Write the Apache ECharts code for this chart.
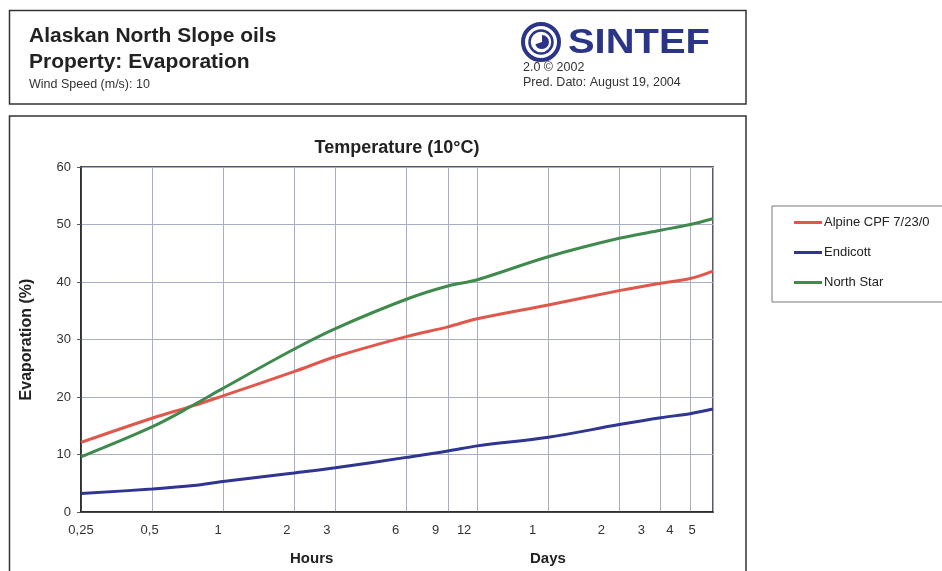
<!DOCTYPE html>
<html>
<head>
<meta charset="utf-8">
<script src="https://cdn.jsdelivr.net/npm/echarts@6/dist/echarts.min.js"></script>
<style>
html,body{margin:0;padding:0;background:#fff;}
#chart{width:942px;height:571px;}
</style>
</head>
<body>
<div id="chart"></div>
<script>
// ---- data (time in hours, evaporation in %) ----
const hours     = [0.25, 0.5, 0.75, 1, 2, 3, 6, 9, 12, 24, 48, 72, 96, 120];
const alpine    = [12.1, 16.3, 18.5, 20.2, 24.4, 27.0, 30.5, 32.2, 33.6, 36.0, 38.5, 39.8, 40.6, 41.9];
const endicott  = [3.2, 4.0, 4.6, 5.3, 6.8, 7.7, 9.5, 10.6, 11.5, 13.0, 15.2, 16.4, 17.1, 17.9];
const northStar = [9.6, 14.8, 18.6, 21.5, 28.3, 31.9, 37.0, 39.3, 40.4, 44.4, 47.6, 49.0, 50.0, 51.0];
const seriesNames = ['Alpine CPF 7/23/0', 'Endicott', 'North Star'];
const tickHours  = [0.25, 0.5, 1, 2, 3, 6, 9, 12, 24, 48, 72, 96, 120];
const tickLabels = ['0,25', '0,5', '1', '2', '3', '6', '9', '12', '1', '2', '3', '4', '5'];
const yMin = 0, yMax = 60, yStep = 10;

const colors = ['#e0574c', '#2f3590', '#3f8a4c'];
const FONT = '"Liberation Sans", Arial, sans-serif';

function labelFor(v) {
  for (let i = 0; i < tickHours.length; i++) {
    if (Math.abs(tickHours[i] - v) / tickHours[i] < 1e-6) return tickLabels[i];
  }
  return '';
}

const chart = echarts.init(document.getElementById('chart'), null, {renderer: 'canvas'});
const seriesData = [alpine, endicott, northStar];

const option = {
  backgroundColor: '#ffffff',
  textStyle: {fontFamily: FONT},
  animation: false,
  title: {
    text: 'Temperature (10°C)',
    left: 397, top: 139, textAlign: 'center', padding: 0,
    textStyle: {fontFamily: FONT, fontSize: 18, fontWeight: 'bold', color: '#222'}
  },
  legend: {
    data: seriesNames,
    orient: 'vertical', left: 794, top: 216, padding: 0,
    icon: 'rect', itemWidth: 28, itemHeight: 3, itemGap: 17,
    textStyle: {fontFamily: FONT, fontSize: 13, color: '#222', padding: [0, 0, 0, -3]}
  },
  grid: [
    {left: 81, right: 229, top: 167, bottom: 59, show: true, borderColor: '#222', borderWidth: 1.5, containLabel: false},
    {left: 81, right: 250, top: 167, bottom: 59, show: false, containLabel: false}
  ],
  xAxis: [
    {
      type: 'log', logBase: 2, min: 0.25, max: 120, gridIndex: 0,
      axisLine: {show: true, lineStyle: {color: '#222', width: 1.5}},
      axisTick: {show: false, customValues: tickHours},
      axisLabel: {show: false, customValues: tickHours},
      splitLine: {show: true, lineStyle: {color: '#a9aec4', width: 1}}
    },
    {
      type: 'log', logBase: 2, min: 0.25, max: 120, gridIndex: 1,
      axisLine: {show: false}, axisTick: {show: false}, splitLine: {show: false},
      axisLabel: {
        show: true, customValues: tickHours, margin: 12,
        fontFamily: FONT, fontSize: 13, color: '#333',
        formatter: function (v) { return labelFor(v); }
      }
    }
  ],
  yAxis: [
    {
      type: 'value', min: yMin, max: yMax, interval: yStep, gridIndex: 0,
      name: 'Evaporation (%)', nameLocation: 'middle', nameGap: 46,
      nameTextStyle: {fontFamily: FONT, fontSize: 16, fontWeight: 'bold', color: '#222'},
      axisLine: {show: true, lineStyle: {color: '#222', width: 1.5}},
      axisTick: {show: true, length: 4, lineStyle: {color: '#555'}},
      axisLabel: {margin: 10, fontFamily: FONT, fontSize: 13, color: '#333'},
      splitLine: {show: true, lineStyle: {color: '#a9aec4', width: 1}}
    },
    {
      type: 'value', min: yMin, max: yMax, gridIndex: 1, show: false
    }
  ],
  series: seriesNames.map((name, k) => ({
    name: name, type: 'line', xAxisIndex: 0, yAxisIndex: 0,
    showSymbol: false, smooth: 0.35,
    lineStyle: {color: colors[k], width: 3},
    itemStyle: {color: colors[k]},
    data: hours.map((h, i) => [h, seriesData[k][i]])
  })),
  graphic: [
    // header box
    {type: 'rect', shape: {x: 9.5, y: 10.5, width: 736.5, height: 93.5}, style: {fill: 'none', stroke: '#333', lineWidth: 1.5}, z: 0},
    // chart box
    {type: 'rect', shape: {x: 9.5, y: 116, width: 736.5, height: 480}, style: {fill: 'none', stroke: '#333', lineWidth: 1.5}, z: 0},
    // legend box
    {type: 'rect', shape: {x: 772, y: 206, width: 190, height: 96}, style: {fill: 'none', stroke: '#777', lineWidth: 1}, z: 0},
    // header texts
    {type: 'text', left: 29, top: 26, style: {text: 'Alaskan North Slope oils', font: 'bold 21px ' + FONT, fill: '#222'}},
    {type: 'text', left: 29, top: 52, style: {text: 'Property: Evaporation', font: 'bold 21px ' + FONT, fill: '#222'}},
    {type: 'text', left: 29, top: 78, style: {text: 'Wind Speed (m/s): 10', font: '12.5px ' + FONT, fill: '#333'}},
    {type: 'text', left: 523, top: 61, style: {text: '2.0 © 2002', font: '12.5px ' + FONT, fill: '#333'}},
    {type: 'text', left: 523, top: 76, style: {text: 'Pred. Dato: August 19, 2004', font: '12.5px ' + FONT, fill: '#333'}},
    // SINTEF logo
    {type: 'circle', shape: {cx: 541, cy: 42, r: 18}, style: {fill: 'none', stroke: '#2b3588', lineWidth: 4}},
    {type: 'circle', shape: {cx: 541, cy: 42, r: 11.5}, style: {fill: 'none', stroke: '#2b3588', lineWidth: 2.5}},
    {type: 'sector', shape: {cx: 542, cy: 42, r: 7, r0: 0, startAngle: -Math.PI / 2, endAngle: Math.PI * 0.9}, style: {fill: '#2b3588'}},
    {type: 'text', x: 568, y: 43, scaleX: 1.14, style: {text: 'SINTEF', font: 'bold 35px ' + FONT, fill: '#2b3588', verticalAlign: 'middle'}},
    // axis group titles
    {type: 'text', left: 290, top: 551, style: {text: 'Hours', font: 'bold 15px ' + FONT, fill: '#222', textAlign: 'center'}},
    {type: 'text', left: 530, top: 551, style: {text: 'Days', font: 'bold 15px ' + FONT, fill: '#222', textAlign: 'center'}}
  ]
};
chart.setOption(option);
</script>
</body>
</html>
